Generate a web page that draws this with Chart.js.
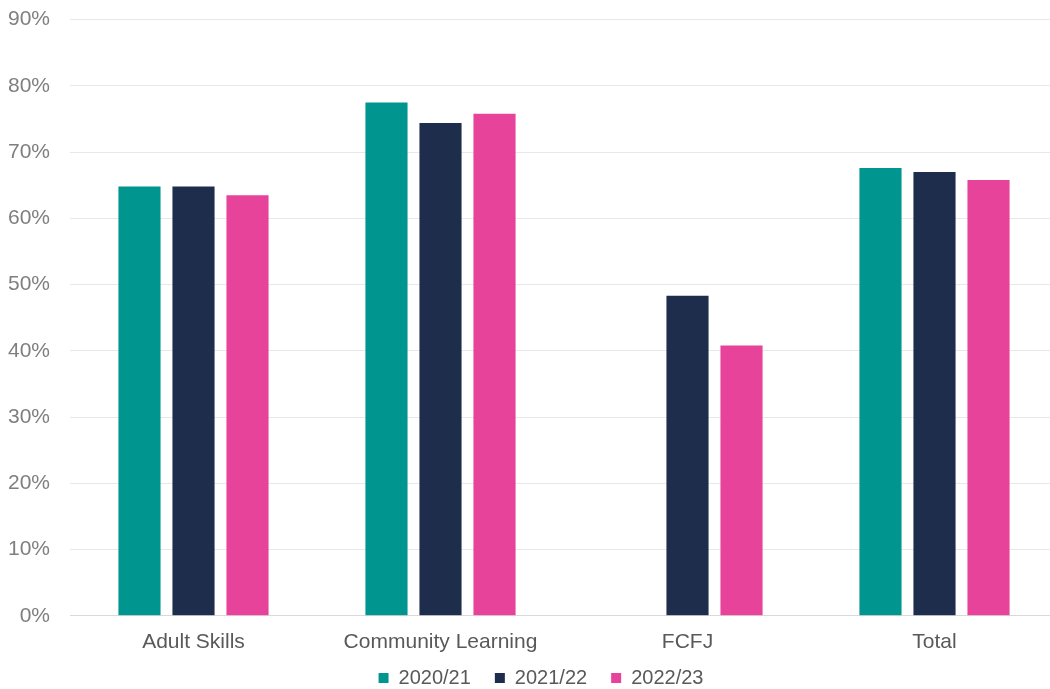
<!DOCTYPE html>
<html>
<head>
<meta charset="utf-8">
<script src="https://cdn.jsdelivr.net/npm/chart.js@4"></script>
<style>
  html, body { margin: 0; padding: 0; background: #fff; overflow: hidden; }
  #wrap { width: 1058px; height: 689px; overflow: hidden; position: relative; }
  #bar_chart { position: absolute; left: 0; top: -13px; }
</style>
</head>
<body>
<div id="wrap"><canvas id="bar_chart" width="1058" height="702"></canvas></div>
<script>
// categories and values
var categories = ['Adult Skills', 'Community Learning', 'FCFJ', 'Total'];
var years = ['2020/21', '2021/22', '2022/23'];
var values2020 = [64.8, 77.5, null, 67.6];
var values2021 = [64.8, 74.4, 48.3, 67.0];
var values2022 = [63.5, 75.8, 40.8, 65.8];
var yTicks = [0, 10, 20, 30, 40, 50, 60, 70, 80, 90];

var colours = ['#00968f', '#1f2d4d', '#e8439a'];

// legend: keep wide gaps between items but trim the space it takes
var legendTrim = {
    id: 'legendTrim',
    afterInit: function (chart) {
        var legend = chart.legend;
        var origFit = legend.fit;
        legend.fit = function () {
            origFit.call(this);
            this.height -= 26;
        };
    },
    afterLayout: function (chart) {
        var lg = chart.legend;
        lg.top -= 17;
        lg.height = 90;
        lg.bottom = lg.top + lg.height;
        lg.left += 12;
        lg.right += 12;
    }
};

var ctx = document.getElementById('bar_chart').getContext('2d');
var myChart = new Chart(ctx, {
    type: 'bar',
    data: {
        labels: categories,
        datasets: [
            { label: years[0], data: values2020, backgroundColor: colours[0] },
            { label: years[1], data: values2021, backgroundColor: colours[1] },
            { label: years[2], data: values2022, backgroundColor: colours[2] }
        ]
    },
    plugins: [legendTrim],
    options: {
        responsive: false,
        animation: false,
        layout: { padding: { top: 0, left: 0, right: 0, bottom: 0 } },
        datasets: {
            bar: { categoryPercentage: 0.656, barPercentage: 0.78 }
        },
        plugins: {
            legend: {
                position: 'bottom',
                labels: {
                    boxWidth: 10,
                    boxHeight: 10,
                    padding: 24,
                    color: '#595959',
                    font: { family: 'Liberation Sans', size: 20 }
                }
            },
            tooltip: { enabled: false }
        },
        scales: {
            x: {
                grid: { display: false },
                border: { color: '#d9d9d9' },
                ticks: {
                    color: '#595959',
                    padding: 6,
                    font: { family: 'Liberation Sans', size: 21 }
                }
            },
            y: {
                min: 0,
                max: 90,
                afterBuildTicks: function (axis) {
                    axis.ticks = yTicks.map(function (v) { return { value: v }; });
                },
                afterFit: function (axis) {
                    axis.width = 70;
                },
                grid: { color: '#e8e8e8', drawTicks: false },
                border: { display: false },
                ticks: {
                    color: '#7f7f7f',
                    padding: 20,
                    font: { family: 'Liberation Sans', size: 21 },
                    callback: function (v) { return v + '%'; }
                }
            }
        }
    }
});
</script>
</body>
</html>
